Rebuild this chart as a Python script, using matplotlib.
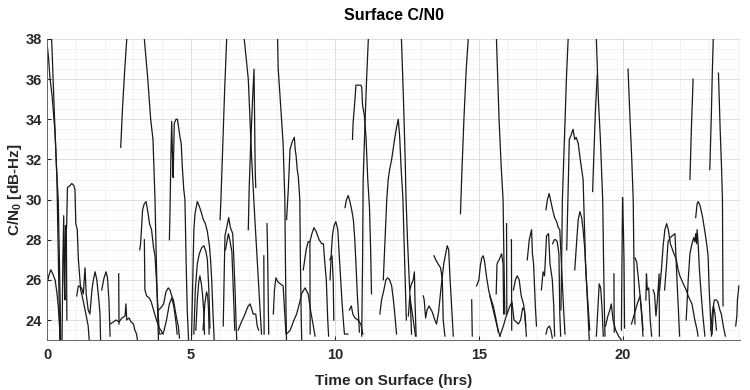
import numpy as np
import matplotlib
matplotlib.use('Agg')
import matplotlib.pyplot as plt
from matplotlib.ticker import MultipleLocator

plt.rcParams['font.family'] = ['Liberation Sans', 'DejaVu Sans']
plt.rcParams['font.weight'] = 'bold'
plt.rcParams['mathtext.fontset'] = 'custom'
plt.rcParams['mathtext.bf'] = 'Liberation Sans:bold'
plt.rcParams['mathtext.rm'] = 'Liberation Sans:bold'
plt.rcParams['mathtext.default'] = 'bf'

# each pass: (time on surface [hrs], C/N0 [dB-Hz])
pass_01 = [(0.0, 37.8), (0.05, 37.1), (0.1, 36.1), (0.18, 35.1), (0.28, 33.3), (0.34, 31.3), (0.38, 28), (0.42, 25), (0.45, 22.5)]
pass_02 = [(0.15, 38.5), (0.16, 38), (0.25, 34.5), (0.33, 31.5), (0.39, 30), (0.43, 27), (0.46, 24.5), (0.48, 22.5)]
pass_03 = [(0.0, 25.8), (0.06, 26.2), (0.13, 26.5), (0.2, 26.3), (0.28, 26), (0.34, 25.4), (0.39, 24.7), (0.44, 23.6), (0.47, 22.8)]
pass_04 = [(0.52, 22.8), (0.55, 27), (0.58, 29.2), (0.6, 26), (0.62, 25), (0.64, 28.7), (0.67, 28.7), (0.69, 24)]
pass_05 = [(0.68, 28.6), (0.71, 30.6), (0.8, 30.7), (0.86, 30.8), (0.93, 30.7), (0.97, 30.5), (1.0, 28.8), (1.05, 28.5),
           (1.09, 27), (1.17, 25.5), (1.25, 25), (1.35, 24.3), (1.43, 23.7), (1.47, 22.9)]
pass_06 = [(1.03, 25.2), (1.09, 25.7), (1.2, 25.6), (1.26, 25.3), (1.32, 26.6), (1.36, 25.3), (1.43, 24.5), (1.49, 24.3),
           (1.56, 25.5), (1.61, 26), (1.67, 26.4), (1.73, 26), (1.8, 25), (1.84, 24.3), (1.86, 23)]
pass_07 = [(1.9, 25.5), (1.98, 26.1), (2.05, 26.4), (2.1, 26.1), (2.15, 25), (2.19, 23.2)]
pass_08 = [(2.19, 23.8), (2.3, 23.9), (2.4, 24.0), (2.5, 23.9), (2.6, 24.1), (2.71, 24.2), (2.74, 24.8), (2.77, 24.0),
           (2.85, 24.1), (2.92, 23.9), (3.0, 23.8), (3.05, 23.5), (3.11, 23.3), (3.14, 23.0)]
pass_09 = [(2.49, 26.3), (2.5, 23.8)]
pass_10 = [(2.56, 32.6), (2.62, 34.5), (2.7, 36.5), (2.77, 38), (2.8, 39)]
pass_11 = [(3.35, 39), (3.38, 38), (3.5, 36), (3.6, 34), (3.68, 33), (3.75, 30), (3.78, 28), (3.82, 25.5), (3.86, 23.5), (3.88, 22.5)]
pass_12 = [(3.22, 27.5), (3.25, 27.8), (3.32, 29.5), (3.38, 29.8), (3.44, 29.9), (3.5, 29.4), (3.56, 28.8), (3.63, 28.5),
           (3.7, 27.6), (3.75, 27.2), (3.8, 26), (3.83, 25.2), (3.88, 23.8), (3.9, 23.3)]
pass_13 = [(3.38, 28.0), (3.4, 25.5), (3.46, 25.2), (3.55, 25.1), (3.62, 24.9), (3.7, 24.5), (3.8, 24.0), (3.9, 23.6), (4.04, 23.3)]
pass_14 = [(3.87, 24.5), (3.95, 24.6), (4.05, 24.8), (4.13, 25.4), (4.21, 25.6), (4.27, 25.5), (4.33, 25.2), (4.39, 25),
           (4.45, 24.5), (4.5, 24.1), (4.56, 23.7), (4.6, 23.1)]
pass_15 = [(3.95, 23.3), (4.05, 23.4), (4.15, 24), (4.25, 24.8), (4.33, 25.1), (4.4, 24.7), (4.47, 24), (4.52, 23.3)]
pass_16 = [(4.25, 28), (4.27, 29.3), (4.3, 32), (4.33, 33.9), (4.36, 32), (4.38, 31.1), (4.42, 33.8), (4.48, 34.0),
           (4.53, 34.0), (4.58, 33.5), (4.62, 33.1), (4.66, 32.8), (4.7, 31.6), (4.75, 30.5), (4.79, 30), (4.83, 27),
           (4.87, 24.5), (4.91, 23.2), (4.93, 22.5)]
pass_17 = [(5.02, 23.2), (5.07, 26.5), (5.1, 28.5), (5.14, 29.3), (5.22, 29.9), (5.28, 29.7), (5.35, 29.4), (5.43, 29.0),
           (5.5, 28.8), (5.57, 28.4), (5.64, 27.7), (5.68, 27), (5.72, 26), (5.76, 24.5), (5.8, 23.2), (5.82, 22.5)]
pass_18 = [(5.1, 23.3), (5.15, 25.5), (5.22, 26.8), (5.29, 27.3), (5.37, 27.6), (5.45, 27.7), (5.52, 27.4), (5.57, 27),
           (5.62, 25.5), (5.66, 23.6)]
pass_19 = [(5.17, 23.5), (5.22, 25), (5.27, 25.9), (5.31, 26.2), (5.36, 25.8), (5.4, 25.3), (5.44, 24.5), (5.47, 23.3)]
pass_20 = [(5.42, 23.5), (5.48, 24.8), (5.54, 25.4), (5.58, 25.2), (5.61, 24.5), (5.63, 23.3)]
pass_21 = [(6.01, 29.0), (6.04, 30.0), (6.1, 32.5), (6.17, 35.5), (6.24, 38), (6.26, 39)]
pass_22 = [(6.12, 23.7), (6.15, 26), (6.18, 28.2), (6.24, 28.6), (6.31, 29.1), (6.37, 28.6), (6.45, 28.3), (6.49, 27),
           (6.53, 25.5), (6.57, 23.7), (6.59, 23)]
pass_23 = [(6.2, 27.5), (6.26, 28.0), (6.3, 28.3), (6.36, 27.9), (6.42, 27.4), (6.47, 25.5), (6.52, 23.5)]
pass_24 = [(6.64, 23.5), (6.75, 23.9), (6.85, 24.2), (6.93, 24.5), (6.99, 24.7), (7.05, 24.8), (7.1, 24.6), (7.16, 24.3),
           (7.25, 24.3), (7.3, 23.7), (7.35, 23.5)]
pass_25 = [(6.83, 39), (6.85, 38), (6.92, 37), (6.99, 36), (7.05, 34), (7.1, 32.3), (7.16, 30.6), (7.22, 29), (7.3, 27),
           (7.38, 25), (7.45, 23.3)]
pass_26 = [(6.99, 28.5), (7.02, 30.5), (7.08, 33), (7.14, 35), (7.19, 36.5), (7.21, 34), (7.23, 31.5), (7.25, 30.6)]
pass_27 = [(7.53, 27.2), (7.54, 23.3)]
pass_28 = [(7.64, 28.8), (7.66, 27.5), (7.7, 23.3)]
pass_29 = [(7.86, 24.3), (7.9, 25.5), (7.95, 26.1), (8.02, 25.9), (8.1, 25.8), (8.2, 25.7), (8.25, 24.5), (8.3, 23.3)]
pass_30 = [(8.0, 38.5), (8.03, 36.5), (8.1, 35), (8.2, 32.8), (8.26, 30), (8.28, 27), (8.3, 24.5), (8.32, 22.8)]
pass_31 = [(8.32, 29), (8.38, 30.5), (8.44, 32.5), (8.52, 32.9), (8.59, 33.1), (8.62, 32.5), (8.65, 32.2), (8.69, 31.5),
           (8.73, 31.1), (8.78, 30), (8.8, 27), (8.83, 24), (8.85, 22.8)]
pass_32 = [(8.32, 23.3), (8.45, 23.5), (8.55, 23.9), (8.67, 24.3), (8.78, 24.9), (8.84, 25.3), (8.96, 25.6), (9.07, 25.3),
           (9.15, 24.5), (9.25, 23.7), (9.31, 23.2)]
pass_33 = [(8.9, 26.5), (9.0, 27.5), (9.07, 27.9), (9.13, 27.9), (9.2, 28.3), (9.27, 28.6), (9.35, 28.4), (9.45, 28.0),
           (9.54, 27.8), (9.6, 27.8), (9.64, 27.0), (9.7, 26), (9.75, 24), (9.78, 23.2)]
pass_34 = [(9.13, 27.9), (9.14, 23.3)]
pass_35 = [(9.83, 26), (9.88, 27.5), (9.92, 28.3), (9.97, 28.7), (10.03, 28.9), (10.1, 28.5), (10.15, 27.2), (10.2, 26),
           (10.25, 24.8), (10.29, 24), (10.33, 23.3), (10.45, 23.3)]
pass_36 = [(9.82, 27), (9.9, 27.2), (9.94, 26), (9.96, 24)]
pass_37 = [(10.35, 29.6), (10.4, 30.0), (10.46, 30.2), (10.52, 29.9), (10.58, 29.5), (10.64, 29.0), (10.69, 28), (10.73, 26.8),
           (10.78, 25.2), (10.81, 24.5), (10.85, 23.4)]
pass_38 = [(10.5, 24.5), (10.57, 24.7), (10.62, 24.3), (10.7, 24.1), (10.8, 24.0), (10.9, 23.8), (10.97, 23.3)]
pass_39 = [(10.61, 33), (10.63, 33.8), (10.68, 34.7), (10.73, 35.7), (10.8, 35.7), (10.9, 35.7), (10.93, 35.6), (10.96, 34.7),
           (11.02, 34.2), (11.08, 33.1), (11.14, 31), (11.2, 29.6), (11.24, 27.5), (11.27, 25.3)]
pass_40 = [(10.93, 23.2), (10.96, 27), (10.98, 31), (11.05, 34), (11.1, 36), (11.16, 38), (11.18, 39)]
pass_41 = [(11.56, 24.3), (11.62, 25), (11.7, 25.5), (11.77, 26), (11.83, 26.1), (11.9, 26), (11.97, 25.7), (12.03, 25),
           (12.08, 24.3), (12.14, 23.3)]
pass_42 = [(11.68, 26), (11.74, 28), (11.8, 30), (11.85, 31), (11.9, 31.5), (11.97, 32), (12.05, 32.8), (12.14, 33.6),
           (12.2, 34.0), (12.25, 33.1), (12.3, 31.5), (12.36, 30.1), (12.4, 28), (12.45, 25.5), (12.48, 24)]
pass_43 = [(12.29, 39), (12.31, 38), (12.38, 35), (12.44, 32), (12.47, 30), (12.52, 28), (12.58, 26), (12.63, 24.5), (12.66, 23.3)]
pass_44 = [(12.6, 25.5), (12.66, 25.8), (12.72, 26), (12.76, 26.4), (12.78, 25), (12.82, 23.2)]
pass_45 = [(12.55, 24.2), (12.6, 25.2), (12.65, 24.7), (12.72, 24), (12.8, 23.2)]
pass_46 = [(13.07, 25.2), (13.1, 25.0), (13.15, 24.1), (13.2, 24.5), (13.27, 24.7), (13.38, 24.4), (13.47, 24.0), (13.53, 23.8),
           (13.6, 24.4), (13.7, 25.8), (13.78, 26.8), (13.9, 27.7), (13.95, 27.5), (14.0, 26), (14.06, 24.5), (14.11, 23.2)]
pass_47 = [(13.44, 27.2), (13.5, 27.0), (13.58, 26.8), (13.67, 26.6), (13.73, 26), (13.76, 24), (13.82, 23.2)]
pass_48 = [(14.36, 29.3), (14.4, 31), (14.48, 34), (14.56, 36.5), (14.63, 38), (14.65, 39)]
pass_49 = [(14.75, 25.0), (14.77, 23.2)]
pass_50 = [(14.92, 25.7), (15.0, 26.0), (15.05, 26.7), (15.1, 27.1), (15.15, 27.2), (15.2, 26.9), (15.27, 26.1), (15.35, 25.4),
           (15.43, 25.0), (15.5, 24.7), (15.6, 24.0), (15.67, 23.4)]
pass_51 = [(15.38, 25.2), (15.48, 24.6), (15.58, 24.0), (15.67, 23.5), (15.73, 23.2)]
pass_52 = [(15.59, 39), (15.61, 38), (15.7, 34), (15.78, 31.5), (15.84, 30), (15.87, 27), (15.9, 24.3)]
pass_53 = [(15.6, 25.3), (15.63, 26.8), (15.7, 27.0), (15.79, 27.3), (15.84, 26.8), (15.86, 24.3)]
pass_54 = [(15.96, 28.8), (15.97, 24.3)]
pass_55 = [(16.13, 28), (16.14, 23.5)]
pass_56 = [(16.2, 25.5), (16.27, 26), (16.33, 26.2), (16.4, 26), (16.47, 25.2), (16.55, 24.8), (16.6, 24.3), (16.63, 23.7)]
pass_57 = [(15.73, 23.2), (15.85, 23.7), (15.95, 24.2), (16.08, 24.7), (16.15, 24.9), (16.22, 24.0), (16.3, 23.9), (16.37, 23.8),
           (16.45, 24.0), (16.52, 24.6), (16.58, 24.5), (16.65, 23.2)]
pass_58 = [(16.68, 27), (16.75, 28), (16.83, 28.5), (16.86, 27.3), (16.9, 26.8), (16.96, 24.7), (17.0, 23.7)]
pass_59 = [(17.17, 25.5), (17.23, 26.4), (17.28, 26.2), (17.35, 28.2), (17.42, 28.3), (17.47, 26.8), (17.55, 26), (17.6, 24.7), (17.63, 23.2)]
pass_60 = [(17.33, 29.5), (17.38, 30.0), (17.44, 30.3), (17.5, 29.9), (17.56, 29.5), (17.63, 29.1), (17.7, 28.9), (17.76, 28.6),
           (17.81, 28.5), (17.86, 27), (17.91, 25.5), (17.95, 24.3), (17.99, 23.3)]
pass_61 = [(17.56, 27.8), (17.62, 28.0), (17.67, 28.0), (17.72, 27.9), (17.78, 27.3), (17.81, 24.3), (17.84, 23.2)]
pass_62 = [(17.33, 23.3), (17.38, 23.6), (17.45, 23.7), (17.5, 23.5), (17.55, 23.1)]
pass_63 = [(17.85, 24.5), (17.88, 27.5), (17.9, 30), (17.97, 33), (18.04, 36), (18.1, 38), (18.12, 39)]
pass_64 = [(18.05, 27.5), (18.1, 30.5), (18.14, 33), (18.2, 33.2), (18.27, 33.5), (18.33, 33.0), (18.38, 33.1), (18.45, 32.8),
           (18.52, 32), (18.62, 31), (18.7, 27), (18.8, 24), (18.85, 22.5)]
pass_65 = [(18.33, 26.5), (18.4, 28), (18.45, 29.0), (18.51, 29.4), (18.57, 29.1), (18.62, 28.5), (18.68, 27.5), (18.72, 26.3),
           (18.78, 25), (18.85, 23.5)]
pass_66 = [(18.95, 30.4), (19.0, 32.5), (19.05, 34.5), (19.11, 36.2)]
pass_67 = [(19.06, 39), (19.08, 38), (19.15, 35), (19.22, 33), (19.3, 30), (19.33, 27), (19.36, 24.5), (19.38, 23.2)]
pass_68 = [(19.08, 23.2), (19.13, 24.5), (19.18, 25.8), (19.23, 25.6), (19.28, 24.5), (19.32, 23.2)]
pass_69 = [(19.4, 23.7), (19.48, 24.2), (19.55, 24.5), (19.6, 24.8), (19.66, 24.0), (19.75, 23.5), (19.85, 23.2), (19.95, 23.0)]
pass_70 = [(19.69, 26.3), (19.7, 23.4)]
pass_71 = [(19.95, 23.5), (19.97, 27), (19.99, 30.1), (20.02, 28.5), (20.04, 27), (20.06, 23.6)]
pass_72 = [(20.18, 36.5), (20.25, 34), (20.31, 32), (20.36, 30), (20.38, 27.5), (20.4, 25.5), (20.42, 23.8)]
pass_73 = [(20.42, 27.1), (20.48, 26.9), (20.53, 26.2), (20.6, 25.2), (20.65, 24.3), (20.7, 23.2)]
pass_74 = [(20.3, 23.8), (20.4, 24.3), (20.5, 24.8), (20.6, 25.2), (20.66, 24.3), (20.7, 23.5)]
pass_75 = [(20.8, 25.0), (20.82, 26.3), (20.85, 25.5), (20.9, 25.6), (20.95, 24.0), (21.0, 23.2)]
pass_76 = [(21.05, 25.5), (21.1, 25.3), (21.15, 24.2), (21.2, 25.0), (21.26, 26.3), (21.27, 23.2)]
pass_77 = [(21.28, 25.5), (21.34, 26.5), (21.4, 27.7), (21.46, 28.5), (21.52, 28.8), (21.58, 28.5), (21.65, 27.8), (21.75, 27.4),
           (21.86, 27), (21.92, 26.5), (21.98, 26.2), (22.1, 25.8), (22.2, 25.5), (22.27, 25.2), (22.4, 24.8), (22.5, 24.0),
           (22.58, 23.5), (22.61, 23.2)]
pass_78 = [(21.45, 25.5), (21.52, 26.8), (21.57, 27.9), (21.64, 28.1), (21.72, 28.2), (21.81, 28.3), (21.84, 27.3), (21.88, 26),
           (21.93, 24.5), (21.97, 23.2)]
pass_79 = [(22.33, 31), (22.38, 33.5), (22.44, 36)]
pass_80 = [(22.2, 24.0), (22.27, 26), (22.33, 27.3), (22.4, 27.8), (22.46, 28.1), (22.5, 27.9), (22.53, 28.3), (22.56, 27.8),
           (22.58, 28.5), (22.62, 27.7), (22.66, 26.5), (22.72, 25.3), (22.78, 24.2), (22.85, 23.2)]
pass_81 = [(22.53, 29.1), (22.58, 29.8), (22.62, 29.9), (22.68, 29.7), (22.76, 29.2), (22.85, 28.4), (22.92, 27.7), (22.96, 27.2),
           (23.0, 25.5), (23.04, 24.3), (23.08, 23.2)]
pass_82 = [(23.02, 31.5), (23.07, 34), (23.11, 36.5), (23.14, 38), (23.16, 39)]
pass_83 = [(23.32, 36.3), (23.38, 33.5), (23.43, 31.5), (23.46, 30), (23.47, 27), (23.48, 24.7)]
pass_84 = [(23.05, 23.5), (23.12, 24.5), (23.18, 25), (23.25, 25.0), (23.3, 24.9), (23.37, 24.5), (23.42, 24.3), (23.5, 23.6), (23.56, 23.2)]
pass_85 = [(23.1, 23.3), (23.15, 24.7), (23.2, 24.3), (23.25, 23.5)]
pass_86 = [(23.92, 23.7), (23.96, 24.2), (23.98, 25.0), (24.03, 25.7)]

passes = [pass_01, pass_02, pass_03, pass_04, pass_05, pass_06, pass_07, pass_08, pass_09, pass_10,
          pass_11, pass_12, pass_13, pass_14, pass_15, pass_16, pass_17, pass_18, pass_19, pass_20,
          pass_21, pass_22, pass_23, pass_24, pass_25, pass_26, pass_27, pass_28, pass_29, pass_30,
          pass_31, pass_32, pass_33, pass_34, pass_35, pass_36, pass_37, pass_38, pass_39, pass_40,
          pass_41, pass_42, pass_43, pass_44, pass_45, pass_46, pass_47, pass_48, pass_49, pass_50,
          pass_51, pass_52, pass_53, pass_54, pass_55, pass_56, pass_57, pass_58, pass_59, pass_60,
          pass_61, pass_62, pass_63, pass_64, pass_65, pass_66, pass_67, pass_68, pass_69, pass_70,
          pass_71, pass_72, pass_73, pass_74, pass_75, pass_76, pass_77, pass_78, pass_79, pass_80,
          pass_81, pass_82, pass_83, pass_84, pass_85, pass_86]

fig = plt.figure(figsize=(7.5, 3.9), dpi=100)
ax = fig.add_axes([0.0627, 0.128, 0.924, 0.772])

for p in passes:
    t, c = zip(*p)
    ax.plot(t, c, color='0.1', lw=0.9)

ax.set_xlim(0, 24.07)
ax.set_ylim(23, 38)
ax.xaxis.set_major_locator(MultipleLocator(5))
ax.xaxis.set_minor_locator(MultipleLocator(1))
ax.yaxis.set_major_locator(MultipleLocator(2))
ax.yaxis.set_minor_locator(MultipleLocator(0.5))
ax.grid(which='major', color='0.85', lw=0.6)
ax.grid(which='minor', color='0.93', lw=0.5)
ax.set_axisbelow(True)
ax.tick_params(which='both', direction='in', colors='0.15', labelsize=10.5, length=3)
ax.tick_params(axis='x', pad=6)
ax.tick_params(which='minor', length=0)
for s in ['top', 'right']:
    ax.spines[s].set_visible(False)
for s in ['left', 'bottom']:
    ax.spines[s].set_color('0.4')
    ax.spines[s].set_linewidth(0.7)
for lab in ax.get_xticklabels() + ax.get_yticklabels():
    lab.set_fontweight('bold')

ax.set_title('Surface C/N0', fontsize=11.5, fontweight='bold', pad=14)
ax.set_xlabel('Time on Surface (hrs)', fontsize=11, fontweight='bold', color='0.15', labelpad=8)
ax.set_ylabel(r'C/N$_0$ [dB-Hz]', fontsize=11, fontweight='bold', color='0.15', labelpad=1)

fig.savefig('out.png', dpi=100)
